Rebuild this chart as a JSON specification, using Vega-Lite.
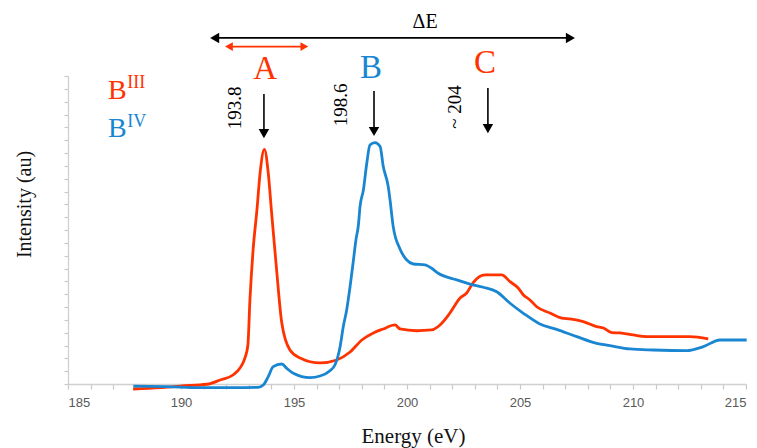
{
  "$schema": "https://vega.github.io/schema/vega-lite/v6.json",
  "width": 678,
  "height": 308,
  "autosize": {"type": "none"},
  "padding": {"left": 68, "top": 76, "right": 11, "bottom": 64},
  "background": "white",
  "config": {"view": {"stroke": null}},
  "datasets": {
    "red": [
      {"E":187.88,"I":-0.39},{"E":189.07,"I":-0.29},{"E":189.96,"I":-0.16},{"E":191.15,"I":-0.02},
      {"E":191.73,"I":0.31},{"E":192.30,"I":0.70},{"E":192.61,"I":1.25},{"E":192.83,"I":2.03},
      {"E":192.96,"I":3.04},{"E":193.05,"I":6.55},{"E":193.19,"I":10.44},{"E":193.36,"I":13.56},
      {"E":193.50,"I":16.45},{"E":193.69,"I":18.29},{"E":193.86,"I":16.45},{"E":194.01,"I":13.33},
      {"E":194.23,"I":8.89},{"E":194.46,"I":4.75},{"E":194.82,"I":2.65},{"E":195.27,"I":2.03},
      {"E":196.15,"I":1.64},{"E":196.89,"I":1.87},{"E":197.48,"I":2.49},{"E":198.00,"I":3.43},
      {"E":198.51,"I":3.98},{"E":198.95,"I":4.29},{"E":199.47,"I":4.60},{"E":199.69,"I":4.29},
      {"E":200.43,"I":4.15},{"E":201.09,"I":4.21},{"E":201.46,"I":4.60},{"E":201.90,"I":5.53},
      {"E":202.35,"I":6.70},{"E":202.64,"I":7.09},{"E":202.93,"I":7.90},{"E":203.45,"I":8.50},
      {"E":204.19,"I":8.50},{"E":204.56,"I":7.97},{"E":204.92,"I":7.48},{"E":205.15,"I":6.94},
      {"E":205.44,"I":6.55},{"E":205.74,"I":6.02},{"E":206.33,"I":5.53},{"E":206.85,"I":5.14},
      {"E":207.21,"I":5.07},{"E":207.80,"I":4.86},{"E":208.39,"I":4.47},{"E":208.69,"I":4.36},
      {"E":209.06,"I":4.00},{"E":209.42,"I":3.98},{"E":210.01,"I":3.82},{"E":210.61,"I":3.69},
      {"E":211.64,"I":3.69},{"E":212.52,"I":3.69},{"E":213.33,"I":3.51}
    ],
    "blue": [
      {"E":187.89,"I":-0.16},{"E":189.37,"I":-0.21},{"E":190.84,"I":-0.29},{"E":192.30,"I":-0.29},
      {"E":193.41,"I":-0.26},{"E":193.64,"I":-0.08},{"E":193.86,"I":0.57},{"E":194.08,"I":1.35},
      {"E":194.46,"I":1.56},{"E":194.68,"I":1.22},{"E":194.97,"I":0.83},{"E":195.71,"I":0.49},
      {"E":196.15,"I":0.62},{"E":196.59,"I":1.04},{"E":196.81,"I":1.48},{"E":197.04,"I":2.91},
      {"E":197.18,"I":4.47},{"E":197.33,"I":5.77},{"E":197.48,"I":7.58},{"E":197.62,"I":9.51},
      {"E":197.74,"I":11.22},{"E":197.85,"I":12.39},{"E":197.92,"I":13.80},{"E":198.07,"I":15.12},
      {"E":198.22,"I":17.20},{"E":198.36,"I":18.63},{"E":198.58,"I":18.81},{"E":198.81,"I":18.50},
      {"E":198.95,"I":16.94},{"E":199.17,"I":15.38},{"E":199.25,"I":14.34},{"E":199.39,"I":12.26},
      {"E":199.69,"I":10.52},{"E":199.99,"I":9.66},{"E":200.28,"I":9.35},{"E":200.80,"I":9.28},
      {"E":201.09,"I":9.02},{"E":201.38,"I":8.63},{"E":202.20,"I":8.11},{"E":202.79,"I":7.79},
      {"E":203.38,"I":7.54},{"E":203.97,"I":7.19},{"E":204.56,"I":6.29},{"E":205.15,"I":5.51},
      {"E":205.88,"I":4.68},{"E":206.62,"I":4.26},{"E":207.51,"I":3.69},{"E":208.39,"I":3.17},
      {"E":208.98,"I":2.99},{"E":209.87,"I":2.73},{"E":210.90,"I":2.65},{"E":212.38,"I":2.60},
      {"E":213.11,"I":2.91},{"E":213.85,"I":3.43},{"E":215.03,"I":3.43}
    ],
    "blackRules": [
      {"E":191.49,"E2":207.23,"I":26.97,"I2":26.97},
      {"E":193.67,"E2":193.67,"I":22.60,"I2":19.64},
      {"E":198.54,"E2":198.54,"I":22.84,"I2":19.80},
      {"E":203.58,"E2":203.58,"I":23.07,"I2":20.03}
    ],
    "redRules": [
      {"E":192.12,"E2":195.46,"I":26.29,"I2":26.29}
    ],
    "blackHeads": [
      {"E":191.49,"I":26.97,"s":"triangle-left"},
      {"E":207.23,"I":26.97,"s":"triangle-right"},
      {"E":193.67,"I":19.51,"s":"triangle-down"},
      {"E":198.54,"I":19.67,"s":"triangle-down"},
      {"E":203.58,"I":19.90,"s":"triangle-down"}
    ],
    "redHeads": [
      {"E":192.12,"I":26.29,"s":"triangle-left"},
      {"E":195.46,"I":26.29,"s":"triangle-right"}
    ]
  },
  "encoding": {
    "x": {"field": "E", "type": "quantitative",
      "scale": {"domain": [185, 215], "nice": false, "zero": false},
      "axis": {
        "title": "Energy (eV)",
        "values": [185,186,187,188,189,190,191,192,193,194,195,196,197,198,199,200,201,202,203,204,205,206,207,208,209,210,211,212,213,214,215],
        "labelExpr": "datum.value % 5 === 0 ? datum.label : ''",
        "labelOverlap": false,
        "grid": false,
        "domainColor": "#D0D0D0", "domainWidth": 1.3,
        "tickColor": "#C8C8C8", "tickSize": 5, "tickWidth": 1.2,
        "labelFont": "Liberation Sans", "labelFontSize": 13, "labelColor": "#595959",
        "labelPadding": 7,
        "titleFont": "Liberation Serif", "titleFontSize": 21, "titleFontWeight": "normal", "titleColor": "#111111",
        "titleBaseline": "alphabetic", "titleY": 58, "titleX": 345
      }
    },
    "y": {"field": "I", "type": "quantitative",
      "scale": {"domain": [0, 24], "nice": false, "zero": false},
      "axis": {
        "title": "Intensity (au)",
        "values": [0,1,2,3,4,5,6,7,8,9,10,11,12,13,14,15,16,17,18,19,20,21,22,23,24],
        "labels": false,
        "grid": false,
        "domainColor": "#D0D0D0", "domainWidth": 1.3,
        "tickColor": "#C8C8C8", "tickSize": 4, "tickWidth": 1.2,
        "titleFont": "Liberation Serif", "titleFontSize": 20, "titleFontWeight": "normal", "titleColor": "#111111",
        "titleBaseline": "alphabetic", "titleX": -38, "titleY": 128, "titleAngle": 270
      }
    }
  },
  "layer": [
    {
      "data": {"name": "red"},
      "mark": {"type": "line", "color": "#FF3300", "strokeWidth": 2.8, "interpolate": "monotone"}
    },
    {
      "data": {"name": "blue"},
      "mark": {"type": "line", "color": "#1A86D2", "strokeWidth": 2.8, "interpolate": "monotone"}
    },
    {
      "data": {"name": "blackRules"},
      "mark": {"type": "rule", "color": "#000000", "strokeWidth": 1.6, "clip": false},
      "encoding": {
        "x2": {"field": "E2"},
        "y2": {"field": "I2"}
      }
    },
    {
      "data": {"name": "redRules"},
      "mark": {"type": "rule", "color": "#FF3300", "strokeWidth": 1.8, "clip": false},
      "encoding": {
        "x2": {"field": "E2"},
        "y2": {"field": "I2"}
      }
    },
    {
      "data": {"name": "blackHeads"},
      "mark": {"type": "point", "filled": true, "color": "#000000", "opacity": 1, "size": 110, "strokeWidth": 0, "clip": false},
      "encoding": {
        "shape": {"field": "s", "type": "nominal", "scale": null}
      }
    },
    {
      "data": {"name": "redHeads"},
      "mark": {"type": "point", "filled": true, "color": "#FF3300", "opacity": 1, "size": 80, "strokeWidth": 0, "clip": false},
      "encoding": {
        "shape": {"field": "s", "type": "nominal", "scale": null}
      }
    },
    {
      "data": {"values": [{"E": 193.72, "I": 23.77, "t": "A"}, {"E": 203.45, "I": 24.2, "t": "C"}]},
      "mark": {"type": "text", "font": "Liberation Serif", "fontSize": 33, "color": "#FF3300", "align": "center", "baseline": "alphabetic"},
      "encoding": {"text": {"field": "t"}}
    },
    {
      "data": {"values": [{"E": 198.41, "I": 23.85, "t": "B"}]},
      "mark": {"type": "text", "font": "Liberation Serif", "fontSize": 33, "color": "#1A86D2", "align": "center", "baseline": "alphabetic"},
      "encoding": {"text": {"field": "t"}}
    },
    {
      "data": {"values": [{"E": 186.77, "I": 22.21, "t": "B"}]},
      "mark": {"type": "text", "font": "Liberation Serif", "fontSize": 28, "color": "#FF3300", "align": "left", "baseline": "alphabetic"},
      "encoding": {"text": {"field": "t"}}
    },
    {
      "data": {"values": [{"E": 187.62, "I": 23.07, "t": "III"}]},
      "mark": {"type": "text", "font": "Liberation Serif", "fontSize": 18, "color": "#FF3300", "align": "left", "baseline": "alphabetic"},
      "encoding": {"text": {"field": "t"}}
    },
    {
      "data": {"values": [{"E": 186.77, "I": 19.25, "t": "B"}]},
      "mark": {"type": "text", "font": "Liberation Serif", "fontSize": 28, "color": "#1A86D2", "align": "left", "baseline": "alphabetic"},
      "encoding": {"text": {"field": "t"}}
    },
    {
      "data": {"values": [{"E": 187.62, "I": 20.05, "t": "IV"}]},
      "mark": {"type": "text", "font": "Liberation Serif", "fontSize": 18, "color": "#1A86D2", "align": "left", "baseline": "alphabetic"},
      "encoding": {"text": {"field": "t"}}
    },
    {
      "data": {"values": [{"E": 192.39, "I": 21.51, "t": "193.8"}, {"E": 197.08, "I": 21.75, "t": "198.6"}, {"E": 202.12, "I": 21.59, "t": "~ 204"}]},
      "mark": {"type": "text", "font": "Liberation Serif", "fontSize": 19, "color": "#000000", "align": "center", "baseline": "middle", "angle": 270},
      "encoding": {"text": {"field": "t"}}
    },
    {
      "data": {"values": [{"E": 200.80, "I": 27.75, "t": "ΔE"}]},
      "mark": {"type": "text", "font": "Liberation Serif", "fontSize": 20, "color": "#000000", "align": "center", "baseline": "alphabetic"},
      "encoding": {"text": {"field": "t"}}
    }
  ]
}
